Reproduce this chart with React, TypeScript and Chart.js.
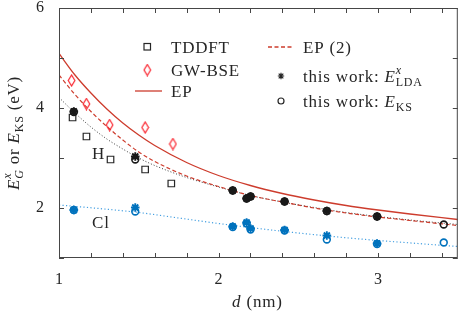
import React, { useEffect, useRef } from 'react';
import { Chart, registerables } from 'chart.js';

Chart.register(...registerables);

const FONT = '"Liberation Serif", "Times New Roman", serif';
const INK = 'rgb(38,38,38)';
const FRAME = 'rgb(70,70,70)';
const RED = 'rgb(205,60,45)';
const BRIGHT_RED = 'rgb(250,35,45)';
const BLUE = 'rgb(0,114,189)';
const LIGHT_BLUE = 'rgb(70,160,225)';

// axis tick labels (only these values carry a label)
const xLabelled = [1, 2, 3];
const yLabelled = [2, 4, 6];

// reference data
const tddftD = [1.085, 1.172, 1.323, 1.54, 1.704];
const tddftE = [3.81, 3.43, 2.97, 2.77, 2.49];
const gwbseD = [1.079, 1.172, 1.317, 1.54, 1.714];
const gwbseE = [4.55, 4.08, 3.66, 3.61, 3.28];

// this work, H passivation
const hD = [1.093, 1.478, 2.089, 2.176, 2.201, 2.414, 2.679, 2.994, 3.412];
const hLdaE = [3.93, 3.03, 2.35, 2.19, 2.23, 2.13, 1.94, 1.83];
const hKsE = [3.92, 2.97, 2.35, 2.19, 2.23, 2.13, 1.94, 1.83, 1.67];
// this work, Cl passivation
const clD = [1.093, 1.478, 2.089, 2.176, 2.201, 2.414, 2.679, 2.994, 3.412];
const clLdaE = [1.96, 2.01, 1.63, 1.71, 1.59, 1.56, 1.45, 1.29];
const clKsE = [1.96, 1.93, 1.62, 1.69, 1.57, 1.55, 1.37, 1.28, 1.31];

// curves
const curveD = [1.0, 1.1, 1.2, 1.3, 1.4, 1.5, 1.6, 1.8, 2.0, 2.2, 2.4, 2.6, 2.8, 3.0, 3.2, 3.5];
const epE = [5.09, 4.66, 4.3, 3.98, 3.7, 3.46, 3.25, 2.91, 2.65, 2.45, 2.29, 2.16, 2.05, 1.96, 1.88, 1.77];
const ep2E = [4.66, 4.27, 3.93, 3.63, 3.36, 3.12, 2.93, 2.64, 2.43, 2.25, 2.12, 2.0, 1.9, 1.82, 1.75, 1.65];
const hFitE = [4.21, 3.9, 3.62, 3.38, 3.18, 3.0, 2.85, 2.61, 2.42, 2.25, 2.12, 2.01, 1.91, 1.83, 1.76, 1.67];
const clFitD = [1.0, 1.25, 1.5, 1.75, 2.0, 2.25, 2.5, 2.75, 3.0, 3.25, 3.5];
const clFitE = [2.06, 1.99, 1.91, 1.8, 1.69, 1.59, 1.5, 1.42, 1.35, 1.29, 1.23];

const pts = (xs: number[], ys: number[]) => ys.map((y, i) => ({ x: xs[i], y }));

type Part = { t: string; it?: boolean; sz?: number; dy?: number; keep?: boolean };

function setFont(ctx: CanvasRenderingContext2D, p: Part, base: number) {
  ctx.font = `${p.it ? 'italic ' : ''}${p.sz ?? base}px ${FONT}`;
}

function richWidth(ctx: CanvasRenderingContext2D, parts: Part[], base: number) {
  let w = 0;
  let pending = 0;
  for (const p of parts) {
    setFont(ctx, p, base);
    const m = ctx.measureText(p.t).width;
    if (p.keep) pending = Math.max(pending, m);
    else {
      w += Math.max(m, pending);
      pending = 0;
    }
  }
  return w;
}

function drawRich(ctx: CanvasRenderingContext2D, parts: Part[], x: number, y: number, base: number) {
  let cx = x;
  let pending = 0;
  ctx.textBaseline = 'alphabetic';
  ctx.textAlign = 'left';
  for (const p of parts) {
    setFont(ctx, p, base);
    const m = ctx.measureText(p.t).width;
    ctx.fillText(p.t, cx, y + (p.dy ?? 0));
    if (p.keep) pending = Math.max(pending, m);
    else {
      cx += Math.max(m, pending);
      pending = 0;
    }
  }
}

function makeDiamond(color: string) {
  const c = document.createElement('canvas');
  c.width = 9;
  c.height = 13;
  const g = c.getContext('2d')!;
  g.strokeStyle = color;
  g.lineWidth = 1.2;
  g.beginPath();
  g.moveTo(4.5, 1);
  g.lineTo(7.8, 6.5);
  g.lineTo(4.5, 12);
  g.lineTo(1.2, 6.5);
  g.closePath();
  g.stroke();
  return c;
}

export default function App() {
  const ref = useRef<HTMLCanvasElement | null>(null);

  useEffect(() => {
    const canvas = ref.current;
    if (!canvas) return;
    const diamond = makeDiamond(BRIGHT_RED);

    const decor = {
      id: 'decor',
      afterDraw(chart: any) {
        const ctx: CanvasRenderingContext2D = chart.ctx;
        const { left, right, top, bottom } = chart.chartArea;
        const xs = chart.scales.x;
        const ys = chart.scales.y;
        ctx.save();
        // frame
        ctx.strokeStyle = FRAME;
        ctx.lineWidth = 1;
        ctx.strokeRect(left + 0.5, top + 0.5, right - left - 1, bottom - top - 1);
        // inward ticks
        const tl = 5;
        ctx.beginPath();
        for (const t of xs.ticks) {
          const px = Math.round(xs.getPixelForValue(t.value)) + 0.5;
          ctx.moveTo(px, bottom);
          ctx.lineTo(px, bottom - tl);
          ctx.moveTo(px, top);
          ctx.lineTo(px, top + tl);
        }
        for (const t of ys.ticks) {
          const py = Math.round(ys.getPixelForValue(t.value)) + 0.5;
          ctx.moveTo(left, py);
          ctx.lineTo(left + tl, py);
          ctx.moveTo(right, py);
          ctx.lineTo(right - tl, py);
        }
        ctx.stroke();

        ctx.fillStyle = INK;
        (ctx as any).letterSpacing = '0.8px';
        // axis titles
        const xt: Part[] = [{ t: 'd', it: true }, { t: ' (nm)' }];
        const xw = richWidth(ctx, xt, 17);
        drawRich(ctx, xt, (left + right) / 2 - xw / 2 - 1, 307, 17);

        const yt: Part[] = [
          { t: 'E', it: true },
          { t: 'x', it: true, sz: 12, dy: -8, keep: true },
          { t: 'G', it: true, sz: 12, dy: 4 },
          { t: ' or ' },
          { t: 'E', it: true },
          { t: 'KS', sz: 12, dy: 4 },
          { t: ' (eV)' },
        ];
        const yw = richWidth(ctx, yt, 17);
        ctx.save();
        ctx.translate(19, (top + bottom) / 2);
        ctx.rotate(-Math.PI / 2);
        drawRich(ctx, yt, -yw / 2, 0, 17);
        ctx.restore();

        // curve labels
        ctx.fillStyle = INK;
        drawRich(ctx, [{ t: 'H' }], 92, 159, 17);
        drawRich(ctx, [{ t: 'Cl' }], 92, 228, 17);

        // legend, left column
        ctx.strokeStyle = INK;
        ctx.lineWidth = 1.2;
        ctx.strokeRect(144, 43.5, 6.5, 6.5);
        ctx.drawImage(diamond, 147.3 - 4.5, 70 - 6.5);
        ctx.strokeStyle = RED;
        ctx.lineWidth = 1.3;
        ctx.beginPath();
        ctx.moveTo(135, 91);
        ctx.lineTo(162, 91);
        ctx.stroke();
        drawRich(ctx, [{ t: 'TDDFT' }], 171, 52.7, 17);
        drawRich(ctx, [{ t: 'GW-BSE' }], 171, 75.7, 17);
        drawRich(ctx, [{ t: 'EP' }], 171, 96.7, 17);

        // legend, right column
        ctx.strokeStyle = RED;
        ctx.setLineDash([4, 2.5]);
        ctx.beginPath();
        ctx.moveTo(268, 47);
        ctx.lineTo(294, 47);
        ctx.stroke();
        ctx.setLineDash([]);
        ctx.strokeStyle = INK;
        ctx.lineWidth = 1.2;
        const ax = 281;
        const ay = 76;
        const r = 3.2;
        ctx.beginPath();
        ctx.moveTo(ax - r, ay);
        ctx.lineTo(ax + r, ay);
        ctx.moveTo(ax, ay - r);
        ctx.lineTo(ax, ay + r);
        const d = r * 0.72;
        ctx.moveTo(ax - d, ay - d);
        ctx.lineTo(ax + d, ay + d);
        ctx.moveTo(ax - d, ay + d);
        ctx.lineTo(ax + d, ay - d);
        ctx.stroke();
        ctx.beginPath();
        ctx.arc(281, 101, 3, 0, Math.PI * 2);
        ctx.stroke();
        drawRich(ctx, [{ t: 'EP (2)' }], 303, 52.7, 17);
        drawRich(
          ctx,
          [
            { t: 'this work: ' },
            { t: 'E', it: true },
            { t: 'x', it: true, sz: 12, dy: -8, keep: true },
            { t: 'LDA', sz: 12, dy: 4 },
          ],
          303,
          81.5,
          17
        );
        drawRich(
          ctx,
          [{ t: 'this work: ' }, { t: 'E', it: true }, { t: 'KS', sz: 12, dy: 4 }],
          303,
          106.5,
          17
        );
        ctx.restore();
      },
    };

    const isLab = (v: number, list: number[]) => list.some((l) => Math.abs(l - v) < 1e-6);

    const chart = new Chart(canvas, {
      type: 'scatter',
      data: {
        datasets: [
          {
            label: 'H LDA',
            data: pts(hD, hLdaE),
            pointStyle: 'star',
            radius: 4.3,
            borderColor: 'rgb(25,25,25)',
            borderWidth: 1.9,
            backgroundColor: 'rgb(25,25,25)',
          },
          {
            label: 'H KS',
            data: pts(hD, hKsE),
            pointStyle: 'circle',
            radius: 3.4,
            borderColor: 'rgb(25,25,25)',
            borderWidth: 1.6,
            backgroundColor: 'rgba(0,0,0,0)',
          },
          {
            label: 'Cl LDA',
            data: pts(clD, clLdaE),
            pointStyle: 'star',
            radius: 4.3,
            borderColor: BLUE,
            borderWidth: 1.9,
            backgroundColor: BLUE,
          },
          {
            label: 'Cl KS',
            data: pts(clD, clKsE),
            pointStyle: 'circle',
            radius: 3.4,
            borderColor: BLUE,
            borderWidth: 1.6,
            backgroundColor: 'rgba(0,0,0,0)',
          },
          {
            label: 'TDDFT',
            data: pts(tddftD, tddftE),
            pointStyle: 'rect',
            radius: 4.6,
            borderColor: INK,
            borderWidth: 1.2,
            backgroundColor: 'rgba(0,0,0,0)',
          },
          {
            label: 'GW-BSE',
            data: pts(gwbseD, gwbseE),
            pointStyle: diamond as any,
            radius: 5,
            borderColor: BRIGHT_RED,
            backgroundColor: 'rgba(0,0,0,0)',
          },
          {
            label: 'EP',
            data: pts(curveD, epE),
            showLine: true,
            pointRadius: 0,
            borderColor: RED,
            borderWidth: 1.3,
            cubicInterpolationMode: 'monotone',
          },
          {
            label: 'EP (2)',
            data: pts(curveD, ep2E),
            showLine: true,
            pointRadius: 0,
            borderColor: RED,
            borderWidth: 1.2,
            borderDash: [4, 2.5],
            cubicInterpolationMode: 'monotone',
          },
          {
            label: 'H fit',
            data: pts(curveD, hFitE),
            showLine: true,
            pointRadius: 0,
            borderColor: 'rgb(60,60,60)',
            borderWidth: 1,
            borderDash: [1, 2],
            cubicInterpolationMode: 'monotone',
          },
          {
            label: 'Cl fit',
            data: pts(clFitD, clFitE),
            showLine: true,
            pointRadius: 0,
            borderColor: LIGHT_BLUE,
            borderWidth: 1.2,
            borderDash: [1.2, 2.3],
            cubicInterpolationMode: 'monotone',
          },
        ] as any,
      },
      options: {
        animation: false,
        responsive: false,
        maintainAspectRatio: false,
        events: [],
        layout: { padding: { top: 8, right: 2, left: 0, bottom: 0 } },
        plugins: { legend: { display: false }, tooltip: { enabled: false } },
        scales: {
          x: {
            type: 'linear',
            min: 1,
            max: 3.5,
            afterFit: (s: any) => {
              s.height = 61;
              s.paddingLeft = 0;
              s.paddingRight = 0;
            },
            grid: { display: false, drawTicks: false },
            border: { display: false },
            ticks: {
              stepSize: 0.2,
              includeBounds: false,
              autoSkip: false,
              maxRotation: 0,
              padding: 12,
              color: INK,
              font: { family: FONT, size: 16 },
              callback: (v: any) => (isLab(Number(v), xLabelled) ? String(Math.round(Number(v))) : ''),
            },
          },
          y: {
            type: 'linear',
            min: 1,
            max: 6,
            afterFit: (s: any) => {
              s.width = 59;
              s.paddingTop = 0;
              s.paddingBottom = 0;
            },
            grid: { display: false, drawTicks: false },
            border: { display: false },
            ticks: {
              stepSize: 1,
              autoSkip: false,
              padding: 15,
              color: INK,
              font: { family: FONT, size: 16 },
              callback: (v: any) => (isLab(Number(v), yLabelled) ? String(Math.round(Number(v))) : ''),
            },
          },
        },
      } as any,
      plugins: [decor],
    });
    return () => chart.destroy();
  }, []);

  return (
    <div style={{ position: 'fixed', left: 0, top: 0, width: 464, height: 319, background: '#fff' }}>
      <canvas ref={ref} width={464} height={319} style={{ width: 464, height: 319, display: 'block' }} />
    </div>
  );
}
